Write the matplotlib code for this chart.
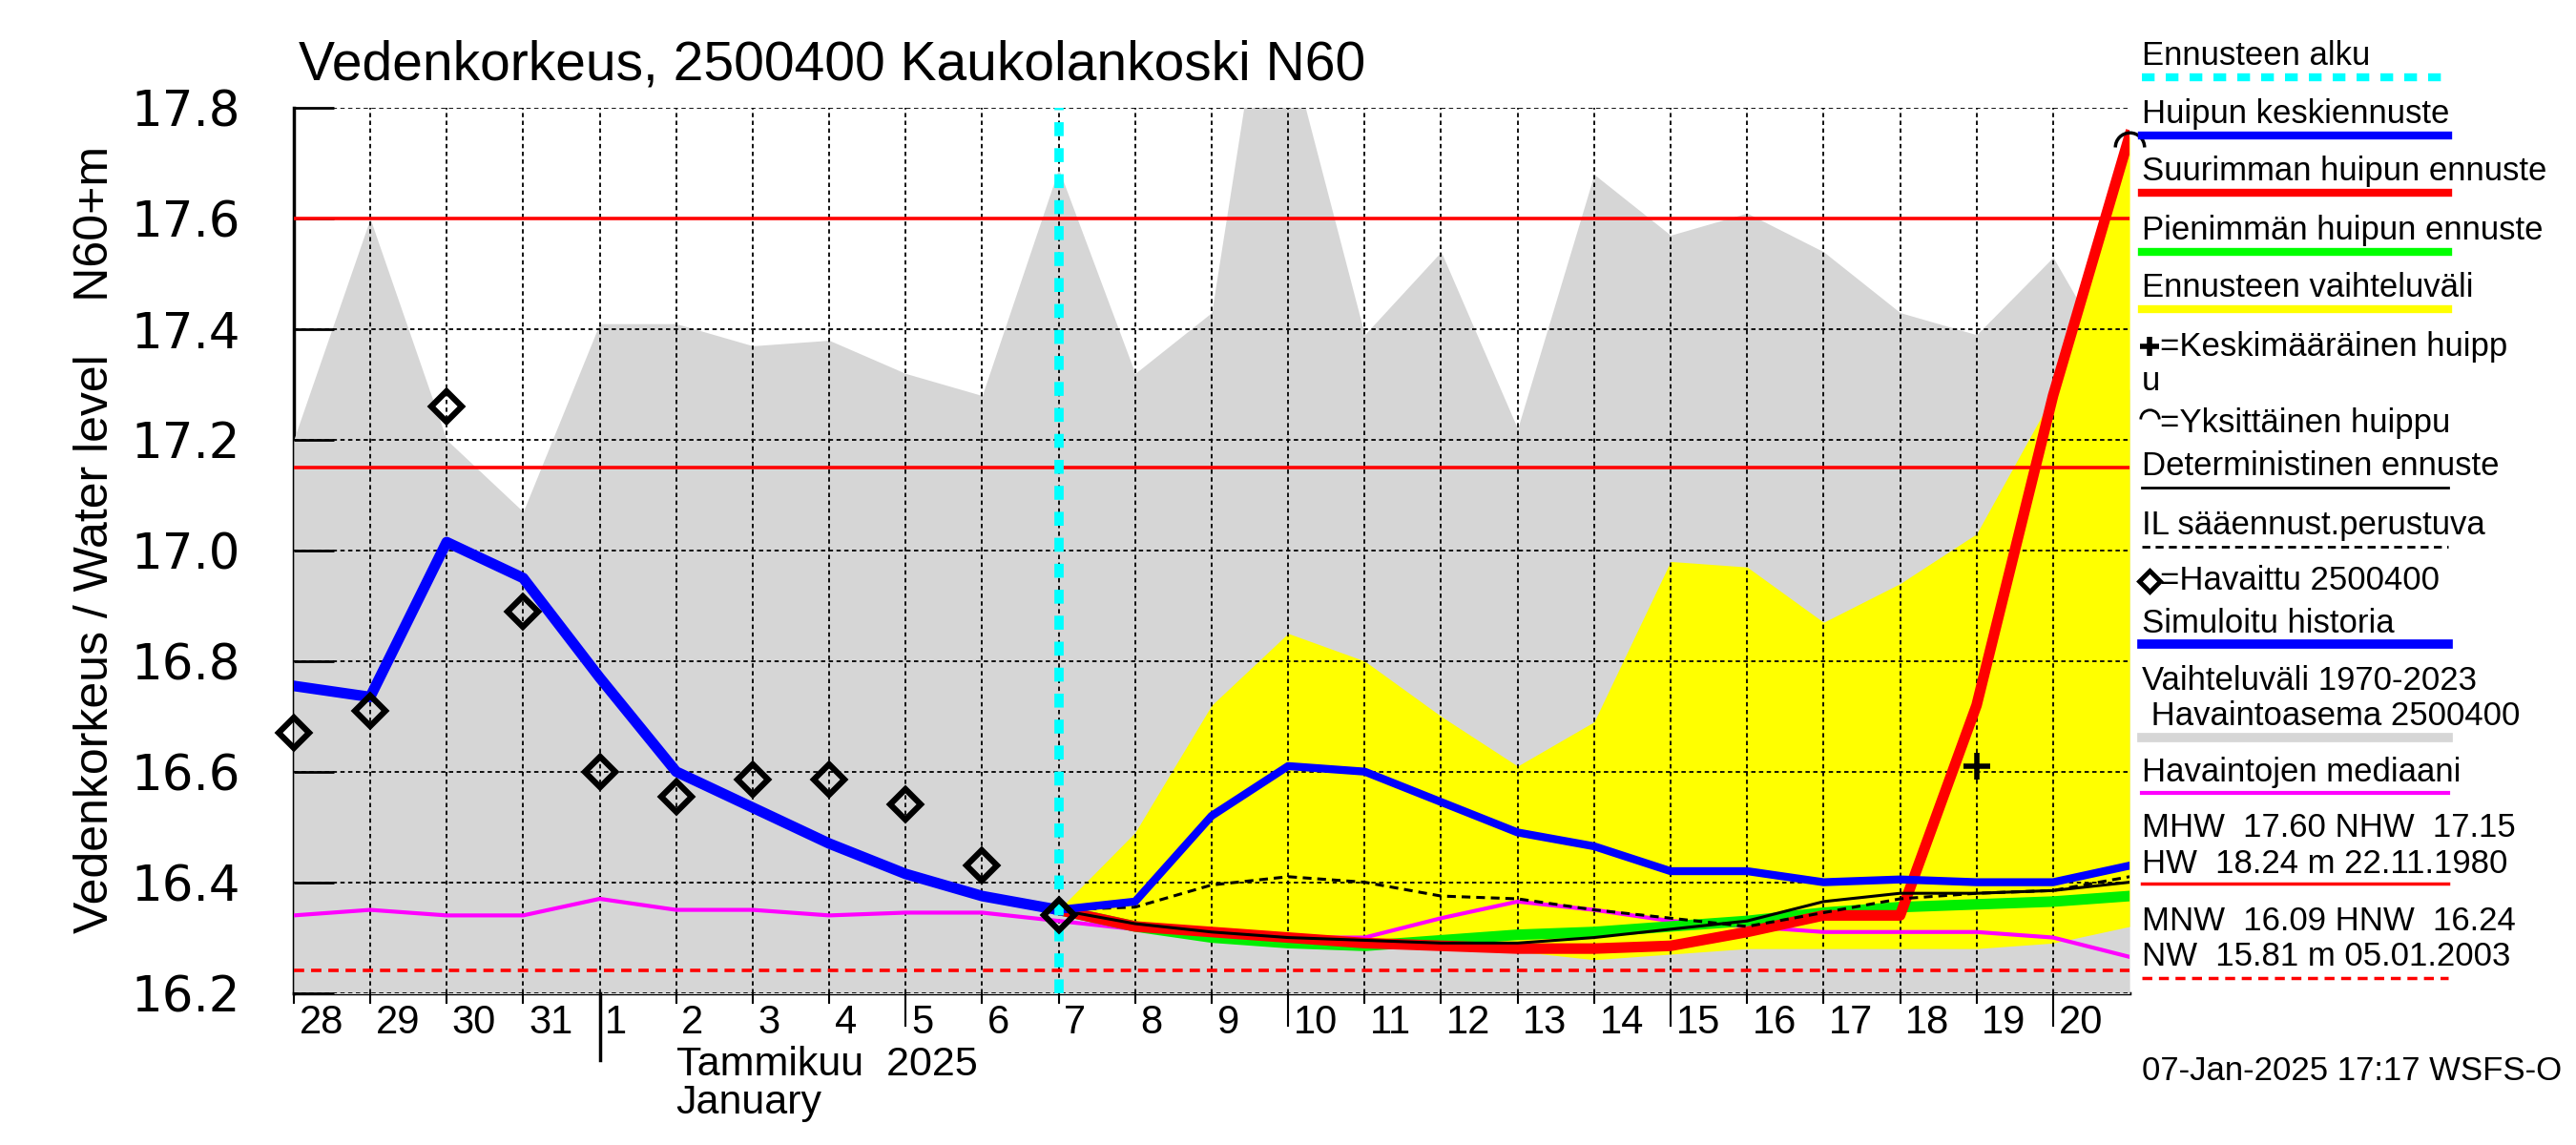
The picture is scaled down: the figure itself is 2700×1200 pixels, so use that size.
import numpy as np
import matplotlib
matplotlib.use("Agg")
from matplotlib import pyplot as plt
from matplotlib.lines import Line2D
from matplotlib.path import Path

# days counted from 28 Dec 2024 00:00
day_labels = [28, 29, 30, 31] + list(range(1, 21))
obs_days = np.arange(0, 11)
fc_days = np.arange(10, 25)
all_days = np.arange(0, 25)

# vaihteluvali 1970-2023 (upper edge)
range_x = [0, 1, 2, 3, 4, 5, 6, 7, 8, 9, 10, 11, 12, 12.5, 13, 14, 15, 16, 17, 18, 19, 20, 21, 22, 23, 24]
range_hi = [17.20, 17.60, 17.20, 17.07, 17.41, 17.41, 17.37, 17.38, 17.32, 17.28, 17.69, 17.32, 17.43,
            17.87, 17.92, 17.39, 17.54, 17.22, 17.68, 17.57, 17.61, 17.54, 17.43, 17.39, 17.53, 17.29]
range_lo = [16.0] * len(range_x)

# ennusteen vaihteluvali
band_hi = [16.35, 16.49, 16.72, 16.85, 16.80, 16.70, 16.61, 16.69, 16.98, 16.97, 16.87, 16.94, 17.03, 17.28, 17.75]
band_lo = [16.35, 16.32, 16.30, 16.285, 16.28, 16.28, 16.275, 16.26, 16.27, 16.28, 16.28, 16.28, 16.28, 16.29, 16.32]

sim_hist = [16.755, 16.735, 17.015, 16.95, 16.77, 16.60, 16.535, 16.47, 16.415, 16.375, 16.35]
peak_mean = [16.35, 16.365, 16.52, 16.61, 16.60, 16.545, 16.49, 16.465, 16.42, 16.42, 16.40, 16.405, 16.40, 16.40, 16.43]
peak_max = [16.35, 16.32, 16.31, 16.30, 16.29, 16.285, 16.28, 16.28, 16.285, 16.31, 16.34, 16.34, 16.72, 17.28, 17.75]
peak_min = [16.35, 16.32, 16.30, 16.29, 16.285, 16.295, 16.305, 16.31, 16.32, 16.33, 16.345, 16.355, 16.36, 16.365, 16.375]
determ = [16.35, 16.325, 16.31, 16.30, 16.295, 16.29, 16.29, 16.30, 16.315, 16.33, 16.365, 16.38, 16.38, 16.385, 16.40]
il_fc = [16.35, 16.355, 16.395, 16.41, 16.40, 16.375, 16.37, 16.35, 16.335, 16.32, 16.345, 16.37, 16.38, 16.385, 16.41]
observed = [16.67, 16.71, 17.26, 16.89, 16.60, 16.555, 16.585, 16.585, 16.54, 16.43, 16.34]
median = [16.34, 16.35, 16.34, 16.34, 16.37, 16.35, 16.35, 16.34, 16.345, 16.345, 16.33, 16.315, 16.305,
          16.30, 16.30, 16.335, 16.365, 16.35, 16.33, 16.32, 16.31, 16.31, 16.31, 16.30, 16.265]

mean_peak_x, mean_peak_y = 22, 16.61
single_peak_x, single_peak_y = 24, 17.73
MHW, NHW, HNW = 17.60, 17.15, 16.24
forecast_start = 10

narrow = ['Liberation Sans Narrow', 'Liberation Sans', 'DejaVu Sans']
plain = ['Liberation Sans', 'DejaVu Sans']

fig = plt.figure(figsize=(27, 12), dpi=100)
ax = fig.add_axes([0.1140, 0.1329, 0.7127, 0.7728])
ax.set_xlim(0, 24)
ax.set_ylim(16.2, 17.8)

for s in ['top', 'right']:
    ax.spines[s].set_visible(False)
for s in ['left', 'bottom']:
    ax.spines[s].set_linewidth(2.5)
    ax.spines[s].set_zorder(0.5)

ax.fill_between(range_x, range_lo, range_hi, color='#d6d6d6', lw=0, zorder=1)
ax.fill_between(fc_days, band_lo, band_hi, color='#ffff00', lw=0, zorder=1.2)

# grid
for d in range(1, 24):
    ax.axvline(d, color='black', lw=1.3, ls=(0, (2.5, 2)), zorder=1.5)
for v in np.arange(16.2, 17.81, 0.2):
    ax.axhline(v, color='black', lw=1.3, ls=(0, (2.5, 2)), zorder=1.5)

ax.axhline(MHW, color='red', lw=2.6, zorder=2)
ax.axhline(NHW, color='red', lw=2.6, zorder=2)
ax.axhline(HNW, color='red', lw=2.6, ls=(0, (3, 2)), zorder=2)

ax.plot(all_days, median, color='#ff00ff', lw=3, zorder=3)
ax.plot(fc_days, peak_min, color='#00ee00', lw=8, zorder=3.2)
ax.plot(fc_days, peak_max, color='red', lw=8, zorder=3.3)
ax.plot(fc_days, determ, color='black', lw=2.2, zorder=3.5)
ax.plot(fc_days, il_fc, color='black', lw=2.2, ls=(0, (3, 2)), zorder=3.5)
ax.plot(obs_days, sim_hist, color='#0000ff', lw=8, zorder=3.6)
ax.plot(fc_days, peak_mean, color='#0000ff', lw=6, zorder=3.6)
ax.axvline(forecast_start, color='#00ffff', lw=7, ls=(0, (1.5, 1.3)), zorder=4)
ax.plot(obs_days, observed, 'D', ms=16, mfc='none', mec='black', mew=4.5, zorder=5, clip_on=False)
ax.plot(mean_peak_x, mean_peak_y, '+', ms=20, mew=4, color='black', zorder=5)
arc = Path.arc(0, 180)
ax.plot(single_peak_x, single_peak_y, marker=arc, ms=22, mfc='none', mec='black', mew=2.5,
        ls='none', zorder=5, clip_on=False)

# y axis
yt = np.arange(16.2, 17.81, 0.2)
ax.set_yticks(yt)
ax.set_yticklabels(['%.1f' % v for v in yt], family='DejaVu Sans', fontsize=37)
ax.tick_params(axis='y', direction='in', length=30, width=2, pad=40)
ax.set_ylabel('Vedenkorkeus / Water level    N60+m', family=narrow, fontsize=36)
ax.yaxis.set_label_coords(-0.096, 0.512)

# x axis, hand-made ticks
ax.set_xticks([])
xt = ax.get_xaxis_transform()
for i in range(24):
    if i == 4:
        ln = 0.076
    elif day_labels[i] in (5, 10, 15, 20):
        ln = 0.037
    else:
        ln = 0.011
    ax.plot([i, i], [0, -ln], color='black', lw=1.5 if i != 4 else 2.5, transform=xt, clip_on=False)
    ax.text(i + 0.07, -0.012, str(day_labels[i]), transform=xt, ha='left', va='top',
            family=narrow, fontsize=30)
ax.text(5.0, -0.060, 'Tammikuu  2025', transform=xt, ha='left', va='top', family=narrow, fontsize=31)
ax.text(5.0, -0.103, 'January', transform=xt, ha='left', va='top', family=narrow, fontsize=31)

fig.text(0.116, 0.943, 'Vedenkorkeus, 2500400 Kaukolankoski N60', family=narrow, fontsize=41,
         ha='left', va='center')

# legend on the right
lx0, lx1 = 0.8315, 0.9505
fs = 25


def leg_text(y, s, dx=0.0):
    fig.text(lx0 + dx, 1 - y / 700, s, family=plain, fontsize=fs, ha='left', va='center')


def leg_line(y, **kw):
    fig.add_artist(Line2D([lx0, lx1], [1 - y / 700, 1 - y / 700], transform=fig.transFigure, **kw))


def leg_mark(y, **kw):
    fig.add_artist(Line2D([lx0 + 0.003], [1 - y / 700], transform=fig.transFigure, ls='none', **kw))


leg_text(34, 'Ennusteen alku')
leg_line(47, color='#00ffff', lw=6, ls=(0, (1.6, 1.4)))
leg_text(70, 'Huipun keskiennuste')
leg_line(83, color='#0000ff', lw=6)
leg_text(105, 'Suurimman huipun ennuste')
leg_line(118, color='red', lw=6)
leg_text(141, 'Pienimmän huipun ennuste')
leg_line(154, color='#00ff00', lw=6)
leg_text(176, 'Ennusteen vaihteluväli')
leg_line(189, color='#ffff00', lw=6)
leg_mark(212, marker='+', ms=14, mew=4, color='black')
leg_text(212, '=Keskimääräinen huipp', dx=0.007)
leg_text(233, 'u')
leg_mark(256, marker=arc, ms=14, mew=2, mfc='none', mec='black')
leg_text(259, '=Yksittäinen huippu', dx=0.007)
leg_text(285, 'Deterministinen ennuste')
leg_line(298, color='black', lw=2)
leg_text(321, 'IL sääennust.perustuva')
leg_line(334, color='black', lw=2, ls=(0, (3, 2)))
leg_mark(355, marker='D', ms=11, mew=3.5, mfc='none', mec='black')
leg_text(355, '=Havaittu 2500400', dx=0.007)
leg_text(381, 'Simuloitu historia')
leg_line(394, color='#0000ff', lw=7)
leg_text(416, 'Vaihteluväli 1970-2023')
leg_text(438, ' Havaintoasema 2500400')
leg_line(451, color='#d6d6d6', lw=7)
leg_text(472, 'Havaintojen mediaani')
leg_line(485, color='#ff00ff', lw=3)
leg_text(506, 'MHW  17.60 NHW  17.15')
leg_text(528, 'HW  18.24 m 22.11.1980')
leg_line(540, color='red', lw=2.5)
leg_text(563, 'MNW  16.09 HNW  16.24')
leg_text(585, 'NW  15.81 m 05.01.2003')
leg_line(598, color='red', lw=2.5, ls=(0, (3, 2)))
leg_text(655, '07-Jan-2025 17:17 WSFS-O')

fig.savefig('out.png', dpi=100)
